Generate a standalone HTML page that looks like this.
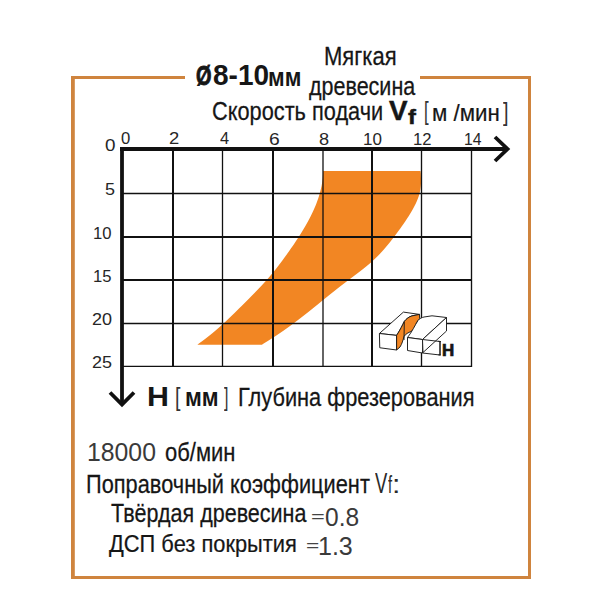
<!DOCTYPE html>
<html><head><meta charset="utf-8">
<style>
html,body{margin:0;padding:0;background:#fff;}
body{width:600px;height:600px;position:relative;overflow:hidden;font-family:"Liberation Sans",sans-serif;color:#161616;}
.t{position:absolute;white-space:nowrap;line-height:1;transform-origin:0 0;}
svg{position:absolute;left:0;top:0;}
</style></head><body>
<svg width="600" height="600" viewBox="0 0 600 600">
  <g fill="#CF843E"><rect x="71" y="76" width="114" height="3"/><rect x="420" y="76" width="111" height="3"/><rect x="71" y="76" width="3.8" height="503"/><rect x="528" y="76" width="3" height="503"/><rect x="71" y="576" width="460" height="3"/></g>
  <path d="M420.5,171.1 L420.8,173.6 L420.9,176.1 L421.0,178.6 L421.0,181.1 L421.0,183.6 L420.8,186.1 L420.5,188.6 L420.1,191.1 L419.5,193.6 L418.8,196.1 L417.9,198.6 L416.9,201.1 L415.8,203.6 L414.5,206.1 L413.2,208.6 L411.8,211.1 L410.3,213.6 L408.8,216.1 L407.1,218.6 L405.5,221.1 L403.8,223.6 L402.0,226.1 L400.3,228.6 L398.4,231.1 L396.6,233.6 L394.7,236.1 L392.8,238.6 L390.9,241.1 L388.9,243.6 L386.8,246.1 L384.7,248.6 L382.5,251.1 L380.2,253.6 L377.8,256.1 L375.2,258.6 L372.6,261.1 L369.8,263.6 L366.8,266.1 L363.7,268.6 L360.5,271.1 L357.2,273.6 L353.9,276.1 L350.6,278.6 L347.3,281.1 L344.0,283.6 L340.7,286.1 L337.5,288.6 L334.4,291.1 L331.2,293.6 L328.1,296.1 L325.0,298.6 L321.9,301.1 L318.9,303.6 L315.8,306.1 L312.7,308.6 L309.6,311.1 L306.4,313.6 L303.2,316.1 L300.0,318.6 L296.7,321.1 L293.4,323.6 L290.0,326.1 L286.5,328.6 L283.0,331.1 L279.3,333.6 L275.6,336.1 L271.7,338.6 L267.8,341.1 L263.7,343.6 L261.9,344.7 L197.4,344.7 L198.9,343.6 L202.4,341.1 L205.7,338.6 L208.9,336.1 L212.0,333.6 L215.0,331.1 L217.9,328.6 L220.7,326.1 L223.5,323.6 L226.2,321.1 L228.8,318.6 L231.4,316.1 L234.0,313.6 L236.5,311.1 L239.0,308.6 L241.6,306.1 L244.1,303.6 L246.6,301.1 L249.1,298.6 L251.5,296.1 L254.0,293.6 L256.4,291.1 L258.8,288.6 L261.2,286.1 L263.5,283.6 L265.8,281.1 L268.0,278.6 L270.1,276.1 L272.2,273.6 L274.3,271.1 L276.3,268.6 L278.2,266.1 L280.1,263.6 L282.0,261.1 L283.8,258.6 L285.6,256.1 L287.4,253.6 L289.2,251.1 L290.9,248.6 L292.7,246.1 L294.4,243.6 L296.0,241.1 L297.7,238.6 L299.3,236.1 L300.9,233.6 L302.4,231.1 L303.9,228.6 L305.4,226.1 L306.8,223.6 L308.2,221.1 L309.5,218.6 L310.8,216.1 L312.0,213.6 L313.2,211.1 L314.3,208.6 L315.4,206.1 L316.4,203.6 L317.3,201.1 L318.2,198.6 L319.0,196.1 L319.7,193.6 L320.4,191.1 L321.0,188.6 L321.6,186.1 L322.0,183.6 L322.4,181.1 L322.7,178.6 L322.9,176.1 L323.0,173.6 L323.1,171.1 Z" fill="#F28623"/>
  <g stroke="#111" fill="none">
    <line x1="173" y1="149" x2="173" y2="367" stroke-width="2"/>
    <line x1="222.5" y1="149" x2="222.5" y2="367" stroke-width="1.3"/>
    <line x1="273" y1="149" x2="273" y2="367" stroke-width="2"/>
    <line x1="323" y1="149" x2="323" y2="367" stroke-width="1.3"/>
    <line x1="372" y1="149" x2="372" y2="367" stroke-width="2"/>
    <line x1="421.5" y1="149" x2="421.5" y2="367" stroke-width="1.35"/>
    <line x1="471.5" y1="149" x2="471.5" y2="367" stroke-width="1.35"/>
    <line x1="122" y1="193.5" x2="472" y2="193.5" stroke-width="1.3"/>
    <line x1="122" y1="237" x2="472" y2="237" stroke-width="2"/>
    <line x1="122" y1="280" x2="472" y2="280" stroke-width="2"/>
    <line x1="122" y1="323.5" x2="472" y2="323.5" stroke-width="1.3"/>
    <line x1="122" y1="366.3" x2="472" y2="366.3" stroke-width="1.3"/>
    <line x1="120" y1="149" x2="508" y2="149" stroke-width="3.8"/>
    <line x1="122" y1="147" x2="122" y2="404" stroke-width="3.8"/>
    <polyline points="495,137 507.5,149 495,161" stroke-width="3.8"/>
    <polyline points="110,392.5 122,404.5 134,392.5" stroke-width="3.8"/>
  </g>
  <g stroke="#1a1a1a" stroke-width="0.95" stroke-linejoin="round" fill="#fff">
    <path d="M379.4,333.5 L403.4,312.1 L419.5,314.4 L412,315.9 C409.5,316.5 406,319 404.3,321.5 C402.5,325 400.75,329 396.6,335.4 Z"/>
    <path d="M379.4,333.5 L396.6,335.4 L396.6,350 L379.75,347.75 Z"/>
    <path d="M396.6,335.4 C400.75,329 402.5,325 404.3,321.5 C406,319 409.5,316.5 412,315.9 L419.5,314.4 L419.7,318.5 C418.8,320 416.5,321.5 415.8,325 C415,328 413.5,330 411,331.5 C408.5,332.5 405.5,334 404,336.5 C403,340 402,344 400,347 L396.6,350 Z" fill="#F28623"/>
    <path d="M404.3,321.5 L404,340" fill="none"/>
    <path d="M407.5,337.5 C412,332 415,325 418,320.5 C419.5,318.5 422,317.5 424,317 L432,315.8 L446.5,317.5 L422.5,339.5 Z"/>
    <path d="M407.5,337.5 L422.5,339.5 L422.5,353 L407.5,350.5 Z"/>
    <path d="M422.5,339.5 L446.5,317.5 L446.5,331 L423,352.5 Z"/>
    <path d="M422.5,339.5 L440,341.5 M422.5,353 L440,355 M438.3,341.3 L441,341.6 M438.3,354.8 L441,355.1" fill="none"/><path d="M440,341.5 L440,355" fill="none" stroke-width="1.5"/>
  </g>
</svg>

<div id="t1a" class="t" style="left:196.08px;top:61.92px;font-size:28px;font-weight:bold;color:#161616;-webkit-text-stroke:0.9px #161616;transform:scale(0.7129,1.0123);">Ø</div>
<div id="t1b" class="t" style="left:213.00px;top:60.79px;font-size:28px;font-weight:bold;color:#161616;transform:scale(1.0003,1.0388);">8-10</div>
<div id="t1c" class="t" style="left:268.31px;top:64.18px;font-size:27px;font-weight:bold;color:#161616;transform:scale(0.8341,0.9783);">мм</div>
<div id="t2" class="t" style="left:323.84px;top:42.66px;font-size:25px;font-weight:normal;color:#161616;-webkit-text-stroke:0.25px #161616;transform:scale(0.8810,1.0435);">Мягкая</div>
<div id="t3" class="t" style="left:309.20px;top:73.00px;font-size:25px;font-weight:normal;color:#161616;-webkit-text-stroke:0.25px #161616;transform:scale(0.8602,1.0415);">древесина</div>
<div id="t4" class="t" style="left:211.93px;top:97.96px;font-size:25px;font-weight:normal;color:#161616;-webkit-text-stroke:0.25px #161616;transform:scale(0.8701,1.0435);">Скорость подачи</div>
<div id="t5" class="t" style="left:389.00px;top:96.62px;font-size:28px;font-weight:bold;color:#161616;-webkit-text-stroke:0.5px #161616;transform:scale(0.9911,1.0093);">V</div>
<div id="t6" class="t" style="left:408.00px;top:106.00px;font-size:21px;font-weight:bold;color:#161616;-webkit-text-stroke:0.5px #161616;transform:scale(1.1262,1.0000);">f</div>
<div id="t7a" class="t" style="left:424.32px;top:99.20px;font-size:25px;font-weight:normal;color:#333;transform:scale(0.6682,1.0000);">[</div>
<div id="t7b" class="t" style="left:432.22px;top:99.61px;font-size:25px;font-weight:normal;color:#161616;-webkit-text-stroke:0.25px #161616;transform:scale(0.8918,0.9887);">м /мин</div>
<div id="t7c" class="t" style="left:502.80px;top:100.10px;font-size:25px;font-weight:normal;color:#333;transform:scale(0.8000,1.0000);">]</div>
<div id="x0" class="t" style="left:121.01px;top:130.40px;font-size:17px;font-weight:normal;color:#262626;transform:scale(0.9818,1.0000);">0</div>
<div id="x2" class="t" style="left:169.32px;top:130.30px;font-size:17px;font-weight:normal;color:#262626;transform:scale(1.0839,1.0000);">2</div>
<div id="x4" class="t" style="left:220.38px;top:130.30px;font-size:17px;font-weight:normal;color:#262626;transform:scale(0.9635,1.0000);">4</div>
<div id="x6" class="t" style="left:269.31px;top:130.50px;font-size:17px;font-weight:normal;color:#262626;transform:scale(1.1343,1.0000);">6</div>
<div id="x8" class="t" style="left:318.93px;top:130.50px;font-size:17px;font-weight:normal;color:#262626;transform:scale(1.0683,1.0000);">8</div>
<div id="x10" class="t" style="left:363.00px;top:130.60px;font-size:17px;font-weight:normal;color:#262626;">10</div>
<div id="x12" class="t" style="left:413.41px;top:130.60px;font-size:17px;font-weight:normal;color:#262626;transform:scale(0.9786,1.0000);">12</div>
<div id="x14" class="t" style="left:463.51px;top:130.60px;font-size:17px;font-weight:normal;color:#262626;transform:scale(0.9242,1.0000);">14</div>
<div id="y0" class="t" style="left:104.89px;top:137.10px;font-size:17px;font-weight:normal;color:#262626;transform:scale(1.1086,1.0000);">0</div>
<div id="y5" class="t" style="left:104.94px;top:180.80px;font-size:17px;font-weight:normal;color:#262626;transform:scale(1.0588,1.0000);">5</div>
<div id="y10" class="t" style="left:93.41px;top:224.80px;font-size:17px;font-weight:normal;color:#262626;transform:scale(0.9786,1.0000);">10</div>
<div id="y15" class="t" style="left:93.41px;top:268.00px;font-size:17px;font-weight:normal;color:#262626;transform:scale(0.9786,1.0000);">15</div>
<div id="y20" class="t" style="left:91.94px;top:311.00px;font-size:17px;font-weight:normal;color:#262626;transform:scale(1.0588,1.0000);">20</div>
<div id="y25" class="t" style="left:91.94px;top:354.20px;font-size:17px;font-weight:normal;color:#262626;transform:scale(1.0588,1.0000);">25</div>
<div id="h1" class="t" style="left:146.55px;top:383.19px;font-size:27px;font-weight:bold;color:#161616;transform:scale(1.1250,1.0306);">H</div>
<div id="h2" class="t" style="left:175.38px;top:385.30px;font-size:25px;font-weight:normal;color:#333;transform:scale(0.7841,1.0000);">[</div>
<div id="h3" class="t" style="left:185.18px;top:384.60px;font-size:25px;font-weight:bold;color:#161616;transform:scale(0.9098,1.0038);">мм</div>
<div id="h4" class="t" style="left:224.00px;top:385.30px;font-size:25px;font-weight:normal;color:#333;transform:scale(0.6383,1.0000);">]</div>
<div id="h5" class="t" style="left:238.26px;top:384.36px;font-size:25px;font-weight:normal;color:#161616;-webkit-text-stroke:0.25px #161616;transform:scale(0.8716,1.0435);">Глубина фрезерования</div>
<div id="n1" class="t" style="left:87.30px;top:439.00px;font-size:26px;font-weight:normal;color:#3a3a3a;transform:scale(0.9537,1.0000);">18000</div>
<div id="n2" class="t" style="left:164.92px;top:438.98px;font-size:25px;font-weight:normal;color:#161616;-webkit-text-stroke:0.25px #161616;transform:scale(0.8792,1.0566);">об/мин</div>
<div id="n3" class="t" style="left:85.76px;top:471.00px;font-size:25px;font-weight:normal;color:#161616;-webkit-text-stroke:0.25px #161616;transform:scale(0.8715,1.0319);">Поправочный коэффициент</div>
<div id="n4" class="t" style="left:375.00px;top:469.06px;font-size:26px;font-weight:normal;color:#2a2a2a;transform:scale(0.7093,1.1066);">V</div>
<div id="n5" class="t" style="left:388.00px;top:473.92px;font-size:22px;font-weight:normal;color:#2a2a2a;transform:scale(0.6667,1.0599);">f</div>
<div id="n6" class="t" style="left:111.33px;top:501.07px;font-size:25px;font-weight:normal;color:#161616;-webkit-text-stroke:0.25px #161616;transform:scale(0.8602,1.0145);">Твёрдая древесина</div>
<div id="n7" class="t" style="left:311.43px;top:510.08px;font-size:24px;font-weight:normal;color:#444;transform:scale(0.9813,0.5882);">=</div>
<div id="n8" class="t" style="left:325.40px;top:504.90px;font-size:25px;font-weight:normal;color:#3a3a3a;transform:scale(0.9824,1.0000);">0.8</div>
<div id="n9" class="t" style="left:109.20px;top:532.47px;font-size:25px;font-weight:normal;color:#161616;-webkit-text-stroke:0.25px #161616;transform:scale(0.8742,0.9623);">ДСП без покрытия</div>
<div id="n10" class="t" style="left:305.63px;top:538.36px;font-size:24px;font-weight:normal;color:#444;transform:scale(0.9476,0.6284);">=</div>
<div id="n11" class="t" style="left:318.42px;top:534.10px;font-size:25px;font-weight:normal;color:#3a3a3a;transform:scale(1.0008,1.0000);">1.3</div>
<div id="ih" class="t" style="left:442.19px;top:343.00px;font-size:16px;font-weight:bold;color:#161616;-webkit-text-stroke:0.7px #161616;transform:scale(1.0548,1.0000);">H</div>
<div id="n5b" class="t" style="left:391.66px;top:472.25px;font-size:22px;font-weight:normal;color:#2a2a2a;transform:scale(1.3769,1.1535);">:</div>
</body></html>
